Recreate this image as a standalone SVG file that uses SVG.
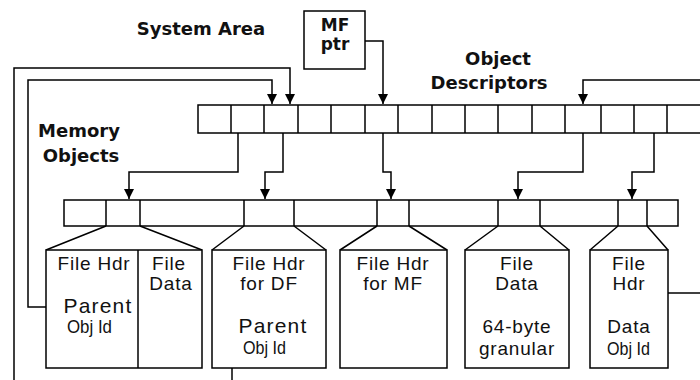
<svg xmlns="http://www.w3.org/2000/svg" width="700" height="380" viewBox="0 0 700 380">
<defs>
<marker id="arr" markerUnits="userSpaceOnUse" markerWidth="10" markerHeight="10" refX="10" refY="5" orient="auto" viewBox="0 0 10 10">
<path d="M0,0 L10,5 L0,10 z" fill="#000"/>
</marker>
<style>
.ln{fill:none;stroke:#000;stroke-width:1.5}
.bx{fill:#fff;stroke:#000;stroke-width:1.5}
.hd{font-family:"DejaVu Sans",Verdana,sans-serif;font-weight:bold;font-size:18px;fill:#111;text-anchor:middle}
.mf{font-family:"DejaVu Sans",Verdana,sans-serif;font-weight:bold;font-size:17px;fill:#111;text-anchor:middle}
.tx{font-family:"Liberation Sans",Arial,sans-serif;font-size:19px;letter-spacing:0.8px;fill:#111;text-anchor:middle}
.pt{font-family:"Liberation Sans",Arial,sans-serif;font-size:21px;letter-spacing:1.2px;fill:#111;text-anchor:middle}
.id{font-family:"Liberation Sans",Arial,sans-serif;font-size:19px;fill:#111}
</style>
</defs>
<rect width="700" height="380" fill="#fff"/>

<g id="labels">
<text class="hd" x="201" y="35">System Area</text>
<text class="hd" x="79" y="137">Memory</text>
<text class="hd" x="81" y="162">Objects</text>
<text class="hd" x="498" y="65">Object</text>
<text class="hd" x="489" y="89">Descriptors</text>
</g>

<g id="mf-ptr">
<rect class="bx" x="304" y="11" width="61" height="58"/>
<text class="mf" x="335" y="31">MF</text>
<text class="mf" x="335" y="50">ptr</text>
</g>

<g id="descriptor-table">
<rect class="bx" x="198" y="105" width="510" height="28"/>
<path class="ln" d="M231,105V133M264,105V133M298,105V133M331,105V133M365,105V133M398,105V133M432,105V133M465,105V133M498,105V133M532,105V133M565,105V133M601,105V133M634,105V133M667,105V133"/>
</g>

<g id="memory-table">
<rect class="bx" x="64" y="200" width="614" height="26"/>
<path class="ln" d="M106,200V226M140,200V226M244,200V226M294,200V226M377,200V226M409,200V226M498,200V226M540,200V226M618,200V226M647,200V226"/>
</g>

<g id="obj1">
<path class="ln" d="M106,226L46,250M140,226L202,250"/>
<rect class="bx" x="46" y="250" width="156" height="118"/>
<path class="ln" d="M138,250V368"/>
<text class="tx" x="94" y="270">File Hdr</text>
<text class="pt" x="98" y="313">Parent</text>
<text class="id" x="67" y="333" textLength="45" lengthAdjust="spacingAndGlyphs">Obj Id</text>
<text class="tx" x="169" y="270">File</text>
<text class="tx" x="171" y="290">Data</text>
</g>

<g id="obj2">
<path class="ln" d="M244,226L212,250M294,226L326,250"/>
<rect class="bx" x="212" y="250" width="114" height="118"/>
<text class="tx" x="269" y="270">File Hdr</text>
<text class="tx" x="269" y="290">for DF</text>
<text class="pt" x="273" y="333">Parent</text>
<text class="id" x="243" y="354" textLength="43" lengthAdjust="spacingAndGlyphs">Obj Id</text>
</g>

<g id="obj3">
<path class="ln" d="M377,226L340,250M409,226L447,250"/>
<rect class="bx" x="340" y="250" width="107" height="118"/>
<text class="tx" x="393" y="270">File Hdr</text>
<text class="tx" x="393" y="290">for MF</text>
</g>

<g id="obj4">
<path class="ln" d="M498,226L465,250M540,226L569,250"/>
<rect class="bx" x="465" y="250" width="104" height="118"/>
<text class="tx" x="517" y="270">File</text>
<text class="tx" x="517" y="290">Data</text>
<text class="tx" x="517" y="333">64-byte</text>
<text class="tx" x="517" y="355">granular</text>
</g>

<g id="obj5">
<path class="ln" d="M618,226L590,250M647,226L668,250"/>
<rect class="bx" x="590" y="250" width="78" height="118"/>
<text class="tx" x="629" y="270">File</text>
<text class="tx" x="629" y="290">Hdr</text>
<text class="tx" x="629" y="333">Data</text>
<text class="id" x="607" y="355" textLength="43" lengthAdjust="spacingAndGlyphs">Obj Id</text>
</g>

<g id="connectors">
<path class="ln" d="M14,380V68H290V104" marker-end="url(#arr)"/>
<path class="ln" d="M46,307H28V80H272V104" marker-end="url(#arr)"/>
<path class="ln" d="M365,41H383V104" marker-end="url(#arr)"/>
<path class="ln" d="M700,80H583V104" marker-end="url(#arr)"/>
<path class="ln" d="M238,133V172H129V199" marker-end="url(#arr)"/>
<path class="ln" d="M283,133V172H265V199" marker-end="url(#arr)"/>
<path class="ln" d="M383,133V172H391V199" marker-end="url(#arr)"/>
<path class="ln" d="M583,133V172H518V199" marker-end="url(#arr)"/>
<path class="ln" d="M654,133V172H632V199" marker-end="url(#arr)"/>
<path class="ln" d="M668,293H700"/>
<path class="ln" d="M232,368V380"/>
</g>
</svg>
